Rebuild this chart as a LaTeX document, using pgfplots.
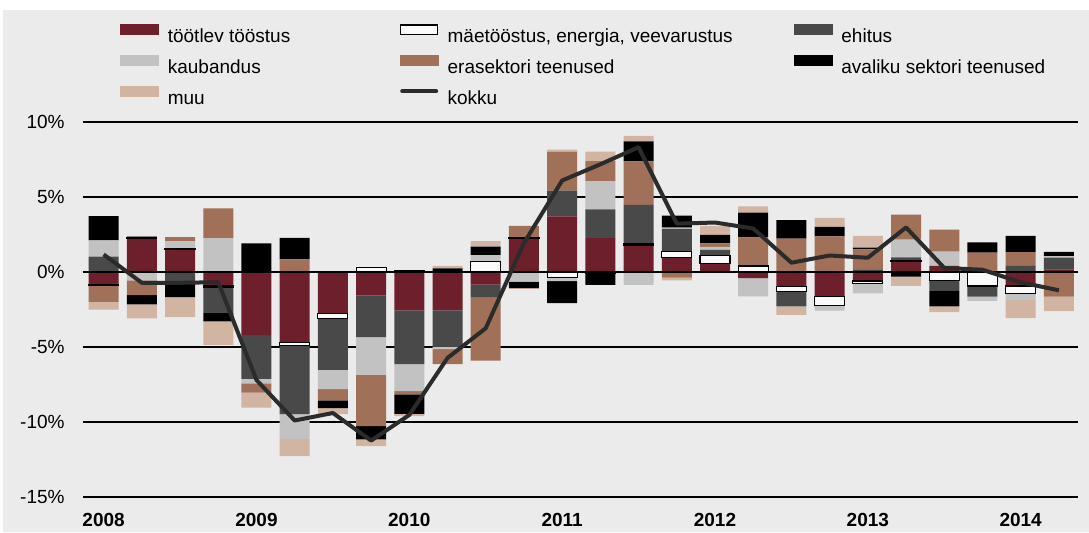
\documentclass[border=0pt]{standalone}
\usepackage{pgfplots}
\pgfplotsset{compat=1.18}
\usepackage{pgfplotstable}
\usepackage{fontspec}
\setmainfont{Liberation Sans}

\definecolor{bg}{HTML}{EBEBEB}
\definecolor{cmf}{HTML}{6D1F2C}
\definecolor{cmi}{HTML}{FAFAFA}
\definecolor{cco}{HTML}{494949}
\definecolor{ctr}{HTML}{C2C2C2}
\definecolor{cpr}{HTML}{A07058}
\definecolor{cpu}{HTML}{000000}
\definecolor{cmu}{HTML}{D2B4A2}
\definecolor{ckk}{HTML}{2B2B2B}

% positive parts of the contributions (percentage points)
\pgfplotstableread{
x  mf   mi   co   tr   pr   pu   mu
0  0    0    1.02 1.09 0    1.62 0
1  2.22 0.05 0.11 0    0    0    0
2  1.51 0.06 0    0.49 0.27 0    0
3  0    0    0    2.24 2.00 0    0
4  0    0    0    0    0    1.91 0
5  0    0    0    0    0.84 1.44 0
6  0    0    0    0    0    0    0
7  0    0.29 0    0    0    0    0
8  0    0.10 0    0    0    0    0
9  0    0    0    0    0    0.24 0.16
10 0    0.71 0    0.42 0    0.56 0.36
11 2.22 0.07 0    0    0.78 0    0
12 3.71 0    1.72 0    2.57 0    0.16
13 2.25 0    1.92 1.88 1.34 0    0.63
14 1.76 0.10 2.61 0    2.90 1.34 0.36
15 0.98 0.36 1.54 0.07 0    0.80 0
16 0.54 0.54 0.40 0.20 0.22 0.58 0.60
17 0    0.40 0    0    1.91 1.64 0.43
18 0    0    0    0    2.22 1.23 0
19 0    0    0    0    2.38 0.63 0.60
20 0    0    0.18 0    1.33 0.11 0.78
21 0.69 0.07 0.22 1.17 1.68 0    0
22 0.40 0    0    0.96 1.46 0    0
23 0    0    0    0    1.29 0.69 0
24 0    0    0.40 0    0.93 1.07 0
25 0.18 0    0.78 0.09 0    0.29 0
}\postab

% negative parts
\pgfplotstableread{
x  mf    mi    co    tr    pr    pu    mu
0  -0.87 -0.05 0     0     -1.07 0     -0.51
1  0     0     0     -0.56 -0.98 -0.62 -0.93
2  0     0     -0.78 0     0     -0.89 -1.33
3  -0.89 -0.11 -1.73 0     0     -0.56 -1.58
4  -4.20 0     -2.93 -0.29 -0.62 0     -1.00
5  -4.71 -0.20 -4.56 -1.67 0     0     -1.13
6  -2.78 -0.33 -3.42 -1.27 -0.76 -0.51 -0.40
7  -1.56 0     -2.78 -2.51 -3.42 -0.89 -0.44
8  -2.56 0     -3.58 -1.80 -0.22 -1.29 -0.16
9  -2.56 0     -2.42 -0.16 -1.00 0     0
10 -0.84 0     -0.84 0     -4.22 0     0
11 0     0     0     -0.64 0     -0.44 -0.05
12 0     -0.38 0     -0.22 0     -1.47 0
13 0     -0.10 0     0     0     -0.75 0
14 0     0     0     -0.85 0     0     0
15 0     0     0     0     -0.38 0     -0.18
16 0     0     0     0     0     0     0
17 -0.40 0     0     -1.23 0     0     0
18 -0.99 -0.31 -0.99 0     0     0     -0.56
19 -1.61 -0.63 0     -0.34 0     0     0
20 -0.60 -0.18 0     -0.64 0     0     0
21 0     0     0     0     0     -0.31 -0.61
22 0     -0.56 -0.70 0     0     -1.03 -0.38
23 0     -0.93 -0.71 -0.29 0     0     0
24 -0.93 -0.51 0     -0.44 0     0     -1.20
25 0     0     0     0     -1.64 0     -0.96
}\negtab

\newcommand{\legtxt}[2]{\makebox[#1][l]{\rule[-2.5pt]{0pt}{11.8pt}\hspace{4.5pt}#2}}
\newcommand{\legnat}[1]{\rule[-2.5pt]{0pt}{11.8pt}\hspace{4.5pt}#1}

\pgfplotsset{
  base/.style={scale only axis, width=497.5pt, height=187.5pt,
    at={(41.5pt,17.5pt)}, anchor=south west,
    xmin=-0.54, xmax=25.5, ymin=-15, ymax=10, clip=false},
  stk/.style={base, hide axis, ybar stacked, bar width=0.785},
}

\begin{document}
\begin{tikzpicture}
\fill[white] (0,0) rectangle (544.5pt,266pt);
\fill[bg] (1.5pt,0) rectangle (544.5pt,261pt);

% grid, ticks and legend
\begin{axis}[base,
  axis line style={draw=none},
  major tick length=0pt,
  ytick={-15,-10,-5,0,5,10},
  yticklabels={-15\%,-10\%,-5\%,0\%,5\%,10\%},
  xtick={0,4,8,12,16,20,24},
  xticklabels={2008,2009,2010,2011,2012,2013,2014},
  ymajorgrids, grid style={black, line width=0.6pt},
  tick label style={font=\fontsize{9.5}{11}\selectfont, inner sep=0pt},
  yticklabel style={xshift=-9pt},
  xticklabel style={font=\fontsize{9.5}{11}\selectfont\bfseries, yshift=-8pt},
  legend columns=3,
  legend cell align=left,
  legend style={at={(0.0372,1.2616)}, anchor=north west, draw=none, fill=none,
    inner sep=0pt, outer sep=0pt, column sep=0pt, row sep=4.65pt,
    font=\fontsize{9.5}{11}\selectfont, nodes={inner sep=0pt}},
]
\addplot[draw=none, forget plot] coordinates {(0,0)};
\addlegendimage{legend image code/.code={\fill[cmf] (0pt,0pt) rectangle (19pt,5.15pt);}}
\addlegendentry{\legtxt{120.5pt}{töötlev tööstus}}
\addlegendimage{legend image code/.code={\filldraw[fill=cmi, draw=black, line width=0.6pt] (0.3pt,0.3pt) rectangle (18.7pt,4.85pt);}}
\addlegendentry{\legtxt{177.5pt}{mäetööstus, energia, veevarustus}}
\addlegendimage{legend image code/.code={\fill[cco] (0pt,0pt) rectangle (19pt,5.15pt);}}
\addlegendentry{\legnat{ehitus}}
\addlegendimage{legend image code/.code={\fill[ctr] (0pt,0pt) rectangle (19pt,5.15pt);}}
\addlegendentry{\legtxt{120.5pt}{kaubandus}}
\addlegendimage{legend image code/.code={\fill[cpr] (0pt,0pt) rectangle (19pt,5.15pt);}}
\addlegendentry{\legtxt{177.5pt}{erasektori teenused}}
\addlegendimage{legend image code/.code={\fill[cpu] (0pt,0pt) rectangle (19pt,5.15pt);}}
\addlegendentry{\legnat{avaliku sektori teenused}}
\addlegendimage{legend image code/.code={\fill[cmu] (0pt,0pt) rectangle (19pt,5.15pt);}}
\addlegendentry{\legtxt{120.5pt}{muu}}
\addlegendimage{legend image code/.code={\draw[ckk, line width=2pt, line cap=round] (1pt,2.6pt) -- (18pt,2.6pt);}}
\addlegendentry{\legtxt{177.5pt}{kokku}}
\end{axis}

% positive stack
\begin{axis}[stk]
\addplot[fill=cmf, draw=none] table[x=x, y=mf] {\postab};
\addplot[fill=cmi, draw=none] table[x=x, y=mi] {\postab};
\addplot[fill=cco, draw=none] table[x=x, y=co] {\postab};
\addplot[fill=ctr, draw=none] table[x=x, y=tr] {\postab};
\addplot[fill=cpr, draw=none] table[x=x, y=pr] {\postab};
\addplot[fill=cpu, draw=none] table[x=x, y=pu] {\postab};
\addplot[fill=cmu, draw=none] table[x=x, y=mu] {\postab};
\end{axis}

% negative stack
\begin{axis}[stk]
\addplot[fill=cmf, draw=none] table[x=x, y=mf] {\negtab};
\addplot[fill=cmi, draw=none] table[x=x, y=mi] {\negtab};
\addplot[fill=cco, draw=none] table[x=x, y=co] {\negtab};
\addplot[fill=ctr, draw=none] table[x=x, y=tr] {\negtab};
\addplot[fill=cpr, draw=none] table[x=x, y=pr] {\negtab};
\addplot[fill=cpu, draw=none] table[x=x, y=pu] {\negtab};
\addplot[fill=cmu, draw=none] table[x=x, y=mu] {\negtab};
\end{axis}

% outlined boxes for mining, positive
\begin{axis}[stk]
\addplot[fill=none, draw=none] coordinates {(1,2.22) (2,1.51) (7,0) (8,0) (10,0) (11,2.22) (14,1.76) (15,0.98) (16,0.54) (17,0) (21,0.69)};
\addplot[fill=cmi, draw=black, line width=0.6pt] coordinates {(1,0.05) (2,0.06) (7,0.29) (8,0.10) (10,0.71) (11,0.07) (14,0.10) (15,0.36) (16,0.54) (17,0.40) (21,0.07)};
\end{axis}

% outlined boxes for mining, negative
\begin{axis}[stk]
\addplot[fill=none, draw=none] coordinates {(0,-0.87) (3,-0.89) (5,-4.71) (6,-2.78) (12,0) (13,0) (18,-0.99) (19,-1.61) (20,-0.60) (22,0) (23,0) (24,-0.93)};
\addplot[fill=cmi, draw=black, line width=0.6pt] coordinates {(0,-0.05) (3,-0.11) (5,-0.20) (6,-0.33) (12,-0.38) (13,-0.10) (18,-0.31) (19,-0.63) (20,-0.18) (22,-0.56) (23,-0.93) (24,-0.51)};
\end{axis}

% zero line and total
\begin{axis}[base, hide axis, no marks]
\addplot[black, line width=1.4pt] coordinates {(-0.54,0) (25.5,0)};
\addplot[ckk, line width=2pt, line join=round] coordinates {
(0,1.17) (1,-0.72) (2,-0.72) (3,-0.68) (4,-7.2) (5,-9.9) (6,-9.4) (7,-11.24)
(8,-9.53) (9,-5.73) (10,-3.75) (11,1.93) (12,6.1) (13,7.18) (14,8.32) (15,3.22)
(16,3.3) (17,2.9) (18,0.62) (19,1.1) (20,0.95) (21,2.97) (22,0.27) (23,0.15)
(24,-0.69) (25,-1.22)};
\end{axis}
\end{tikzpicture}
\end{document}
